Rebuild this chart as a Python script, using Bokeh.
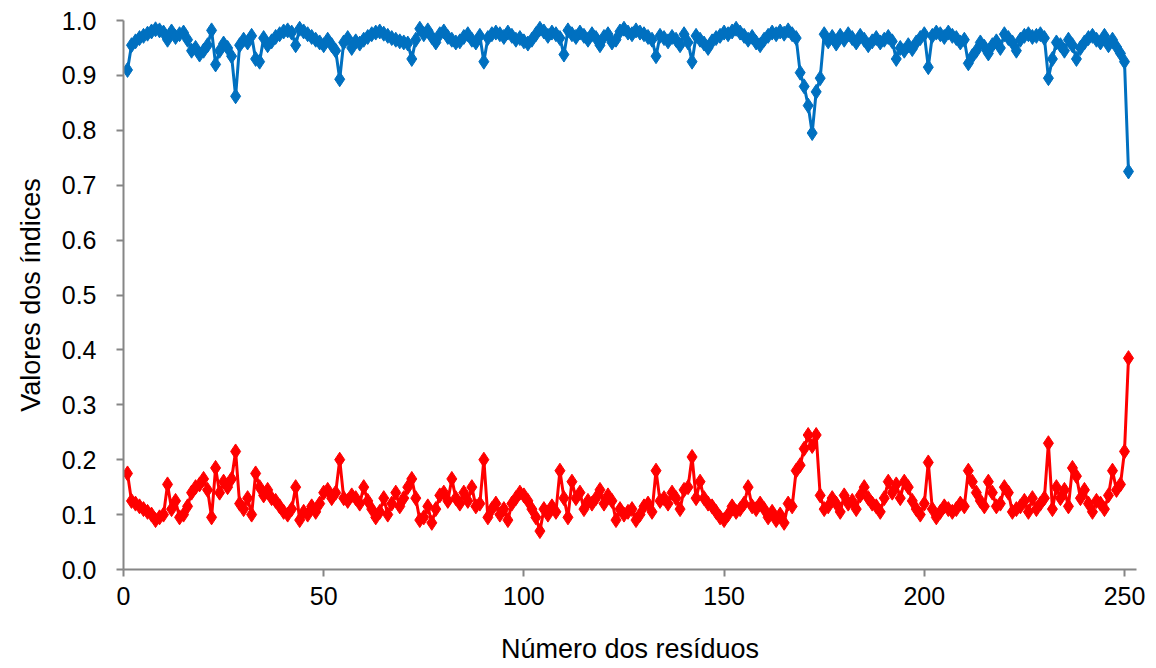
from bokeh.plotting import figure
from bokeh.embed import file_html
from bokeh.resources import INLINE
from bokeh.models import Range1d, FixedTicker, NumeralTickFormatter, ColumnDataSource

upper = [
0.910, 0.955, 0.962, 0.968, 0.972, 0.976, 0.980, 0.984, 0.982, 0.978,
0.965, 0.980, 0.970, 0.975, 0.978, 0.965, 0.945, 0.950, 0.938, 0.945,
0.955, 0.982, 0.920, 0.945, 0.958, 0.950, 0.935, 0.862, 0.955, 0.965,
0.960, 0.972, 0.930, 0.925, 0.968, 0.955, 0.962, 0.970, 0.975, 0.980,
0.982, 0.978, 0.955, 0.985, 0.980, 0.975, 0.970, 0.965, 0.960, 0.955,
0.965, 0.955, 0.945, 0.893, 0.960, 0.968, 0.950, 0.962, 0.958, 0.965,
0.970, 0.975, 0.978, 0.980, 0.976, 0.972, 0.968, 0.965, 0.962, 0.960,
0.958, 0.930, 0.965, 0.985, 0.975, 0.982, 0.970, 0.960, 0.975, 0.980,
0.970, 0.965, 0.960, 0.962, 0.970, 0.975, 0.965, 0.960, 0.972, 0.925,
0.968, 0.975, 0.978, 0.975, 0.970, 0.978, 0.972, 0.965, 0.968, 0.962,
0.958, 0.965, 0.975, 0.985, 0.980, 0.972, 0.978, 0.975, 0.968, 0.938,
0.982, 0.975, 0.970, 0.978, 0.972, 0.965, 0.975, 0.968, 0.955, 0.970,
0.975, 0.960, 0.965, 0.980, 0.985, 0.978, 0.975, 0.982, 0.978, 0.975,
0.970, 0.965, 0.935, 0.972, 0.968, 0.962, 0.970, 0.965, 0.955, 0.975,
0.960, 0.925, 0.972, 0.965, 0.958, 0.950, 0.962, 0.968, 0.972, 0.978,
0.975, 0.980, 0.985, 0.978, 0.972, 0.965, 0.970, 0.960, 0.955, 0.965,
0.972, 0.978, 0.975, 0.980, 0.976, 0.982, 0.975, 0.968, 0.905, 0.880,
0.845, 0.795, 0.870, 0.895, 0.975, 0.962, 0.970, 0.958, 0.972, 0.965,
0.975, 0.968, 0.960, 0.972, 0.965, 0.955, 0.962, 0.968, 0.960, 0.965,
0.970, 0.962, 0.930, 0.950, 0.945, 0.955, 0.948, 0.960, 0.968, 0.975,
0.915, 0.972, 0.978, 0.975, 0.970, 0.978, 0.972, 0.968, 0.960, 0.965,
0.922, 0.935, 0.945, 0.960, 0.952, 0.940, 0.955, 0.962, 0.950, 0.975,
0.968, 0.960, 0.945, 0.965, 0.972, 0.975, 0.970, 0.972, 0.975, 0.968,
0.895, 0.930, 0.960, 0.955, 0.945, 0.965, 0.955, 0.930, 0.950, 0.960,
0.968, 0.972, 0.965, 0.960, 0.972, 0.955, 0.965, 0.952, 0.940, 0.925,
0.725]

lower = [
0.175, 0.125, 0.120, 0.115, 0.110, 0.105, 0.100, 0.090, 0.095, 0.100,
0.155, 0.110, 0.125, 0.095, 0.100, 0.115, 0.140, 0.150, 0.155, 0.165,
0.145, 0.095, 0.185, 0.140, 0.160, 0.150, 0.165, 0.215, 0.120, 0.110,
0.130, 0.100, 0.175, 0.150, 0.135, 0.145, 0.130, 0.125, 0.115, 0.105,
0.100, 0.110, 0.150, 0.090, 0.105, 0.100, 0.115, 0.105, 0.120, 0.140,
0.145, 0.130, 0.140, 0.200, 0.130, 0.125, 0.135, 0.130, 0.120, 0.150,
0.125, 0.110, 0.095, 0.105, 0.130, 0.100, 0.120, 0.140, 0.115, 0.130,
0.150, 0.165, 0.130, 0.090, 0.095, 0.115, 0.085, 0.110, 0.135, 0.140,
0.125, 0.165, 0.130, 0.120, 0.140, 0.125, 0.150, 0.115, 0.120, 0.200,
0.095, 0.110, 0.120, 0.100, 0.110, 0.090, 0.120, 0.130, 0.140, 0.135,
0.125, 0.110, 0.095, 0.070, 0.110, 0.100, 0.115, 0.105, 0.180, 0.130,
0.095, 0.160, 0.130, 0.140, 0.110, 0.125, 0.120, 0.130, 0.145, 0.120,
0.135, 0.125, 0.090, 0.110, 0.100, 0.105, 0.110, 0.090, 0.100, 0.115,
0.120, 0.105, 0.180, 0.125, 0.130, 0.120, 0.140, 0.130, 0.110, 0.145,
0.150, 0.205, 0.130, 0.160, 0.130, 0.120, 0.115, 0.105, 0.095, 0.090,
0.100, 0.115, 0.105, 0.110, 0.120, 0.150, 0.115, 0.110, 0.120, 0.110,
0.095, 0.105, 0.090, 0.100, 0.085, 0.120, 0.115, 0.180, 0.190, 0.220,
0.245, 0.225, 0.245, 0.135, 0.110, 0.115, 0.130, 0.120, 0.105, 0.135,
0.120, 0.125, 0.110, 0.135, 0.150, 0.130, 0.120, 0.115, 0.105, 0.130,
0.160, 0.140, 0.155, 0.130, 0.160, 0.150, 0.125, 0.110, 0.100, 0.120,
0.195, 0.110, 0.095, 0.105, 0.115, 0.110, 0.105, 0.110, 0.120, 0.115,
0.180, 0.160, 0.140, 0.125, 0.115, 0.160, 0.140, 0.115, 0.120, 0.150,
0.140, 0.105, 0.110, 0.115, 0.125, 0.105, 0.130, 0.110, 0.120, 0.130,
0.230, 0.110, 0.150, 0.130, 0.145, 0.115, 0.185, 0.170, 0.130, 0.145,
0.120, 0.105, 0.125, 0.120, 0.110, 0.135, 0.180, 0.145, 0.155, 0.215,
0.385]

residues = list(range(1, len(upper) + 1))

x_ticks = [0, 50, 100, 150, 200, 250]
y_ticks = [0.0, 0.1, 0.2, 0.3, 0.4, 0.5, 0.6, 0.7, 0.8, 0.9, 1.0]

src = ColumnDataSource(dict(x=residues, up=upper, lo=lower))

p = figure(width=1156, height=668, output_backend="svg", toolbar_location=None,
           x_range=Range1d(0, 253), y_range=Range1d(0, 1.0),
           min_border_left=123, min_border_right=20, min_border_top=20, min_border_bottom=99)
p.outline_line_color = None
p.xgrid.visible = False
p.ygrid.visible = False

blue = "#0070C0"
red = "#FF0000"
p.line("x", "up", source=src, line_color=blue, line_width=3)
p.scatter("x", "up", source=src, marker="diamond", size=15, fill_color=blue, line_color=blue)
p.line("x", "lo", source=src, line_color=red, line_width=3)
p.scatter("x", "lo", source=src, marker="diamond", size=15, fill_color=red, line_color=red)

for ax in (p.xaxis[0], p.yaxis[0]):
    ax.axis_line_color = "#868686"
    ax.axis_line_width = 2
    ax.major_tick_line_color = "#868686"
    ax.major_tick_line_width = 2
    ax.major_tick_in = 0
    ax.major_tick_out = 7
    ax.minor_tick_line_color = None
    ax.major_label_text_font = "Liberation Sans"
    ax.major_label_text_font_size = "25px"
    ax.major_label_text_color = "#000000"
    ax.axis_label_text_font = "Liberation Sans"
    ax.axis_label_text_font_size = "27px"
    ax.axis_label_text_font_style = "normal"
    ax.axis_label_text_color = "#000000"

p.xaxis.ticker = FixedTicker(ticks=x_ticks)
p.yaxis.ticker = FixedTicker(ticks=y_ticks)
p.yaxis.formatter = NumeralTickFormatter(format="0.0")
p.xaxis.axis_label = "Número dos resíduos"
p.yaxis.axis_label = "Valores dos índices"
p.xaxis.major_label_standoff = 10
p.yaxis.major_label_standoff = 20
p.xaxis.axis_label_standoff = 26
p.yaxis.axis_label_standoff = 13

open("out.html", "w").write(file_html(p, INLINE))
